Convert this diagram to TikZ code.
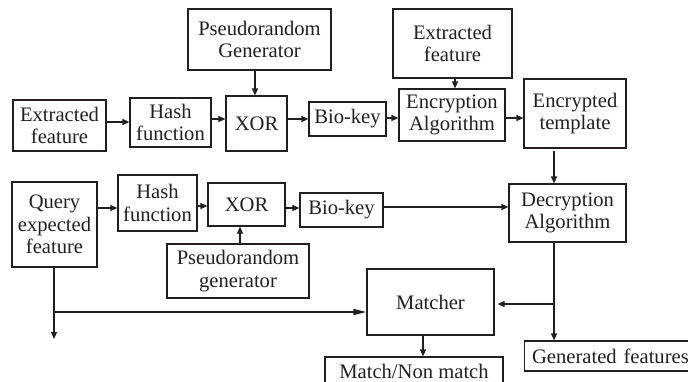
\documentclass[tikz,border=0pt]{standalone}
\usepackage{fontspec}
\setmainfont{Liberation Serif}
\usetikzlibrary{arrows.meta}
\definecolor{ink}{HTML}{231F20}
\begin{document}
\begin{tikzpicture}[x=1pt,y=-1pt,
  box/.style={draw=ink,line width=1.2pt,inner sep=0pt,align=center,text=ink,
    font=\fontsize{20.6}{22.5}\selectfont},
  arr/.style={draw=ink,line width=1.2pt,-{Triangle[length=7pt,width=6pt]}},
  longarr/.style={draw=ink,line width=1.2pt,-{Triangle[length=13pt,width=6pt]}},
  ln/.style={draw=ink,line width=1.2pt}]
\clip (0,0) rectangle (688,381);
\fill[white] (0,0) rectangle (688,381);
% top row
\node[box,minimum width=143pt,minimum height=61pt] (pg1) at (259.5,39.5) {Pseudorandom\\Generator};
\node[box,minimum width=93pt,minimum height=51pt] (ef1) at (59.5,125.5) {Extracted\\feature};
\node[box,minimum width=81pt,minimum height=49pt] (hf1) at (170.5,122.5) {Hash\\function};
\node[box,minimum width=61pt,minimum height=55pt] (xor1) at (256.5,123.5) {XOR};
\node[box,minimum width=77pt,minimum height=34pt] (bk1) at (347.5,119) {Bio-key};
\node[box,minimum width=119pt,minimum height=69pt] (ef2) at (452.5,43.5) {Extracted\\feature};
\node[box,minimum width=106pt,minimum height=52pt] (enc) at (452,115) {Encryption\\Algorithm};
\node[box,minimum width=102pt,minimum height=69pt] (et) at (575,113.5) {Encrypted\\template};
% lower part
\node[box,minimum width=117pt,minimum height=58pt] (dec) at (567.5,213) {Decryption\\Algorithm};
\node[box,minimum width=85pt,minimum height=85pt] (q) at (54.5,224.5) {Query\\expected\\feature};
\node[box,minimum width=79pt,minimum height=56pt] (hf2) at (157.5,203) {Hash\\function};
\node[box,minimum width=77pt,minimum height=43pt] (xor2) at (246.5,204.5) {XOR};
\node[box,minimum width=83pt,minimum height=34pt] (bk2) at (341.5,210) {Bio-key};
\node[box,minimum width=142pt,minimum height=54pt] (pg2) at (238,271) {Pseudorandom\\generator};
\node[box,minimum width=127pt,minimum height=66pt] (mat) at (430.5,302) {Matcher};
\node[box,minimum width=178pt,minimum height=28pt] (mnm) at (414,371) {Match/Non match};
\node[box,minimum width=171pt,minimum height=30pt,anchor=west,align=left,text width=166pt] (gen) at (524,356) {\hspace*{5pt}Generated features};
% connectors top
\draw[arr] (ef1.east |- 0,122) -- (hf1.west |- 0,122);
\draw[arr] (hf1.east |- 0,119) -- (xor1.west |- 0,119);
\draw[arr] (xor1.east |- 0,119) -- (bk1.west |- 0,119);
\draw[arr] (pg1.south -| 255,0) -- (xor1.north -| 255,0);
\draw[arr] (bk1.east |- 0,118) -- (enc.west |- 0,118);
\draw[arr] (ef2.south -| 455,0) -- (enc.north -| 455,0);
\draw[arr] (enc.east |- 0,118) -- (et.west |- 0,118);
\draw[arr] ([yshift=-2pt]et.south -| 554,0) -- (dec.north -| 554,0);
% connectors bottom
\draw[arr] (q.east |- 0,208) -- (hf2.west |- 0,208);
\draw[arr] (hf2.east |- 0,206) -- (xor2.west |- 0,206);
\draw[arr] (xor2.east |- 0,208) -- (bk2.west |- 0,208);
\draw[arr] (pg2.north -| 240,0) -- (xor2.south -| 240,0);
\draw[arr] (bk2.east |- 0,207) -- (dec.west |- 0,207);
\coordinate (qd) at (54,339);
\coordinate (qj) at (54,312);
\draw[arr] (q.south -| 54,0) -- (qd);
\draw[longarr] (qj) -- (mat.west |- 0,312);
\coordinate (dj) at (554,304);
\draw[arr] (dec.south -| 554,0) -- (gen.north -| 554,0);
\draw[arr] (dj) -- ([xshift=3pt]mat.east |- dj);
\draw[arr] (mat.south -| 423,0) -- (mnm.north -| 423,0);
\end{tikzpicture}
\end{document}
